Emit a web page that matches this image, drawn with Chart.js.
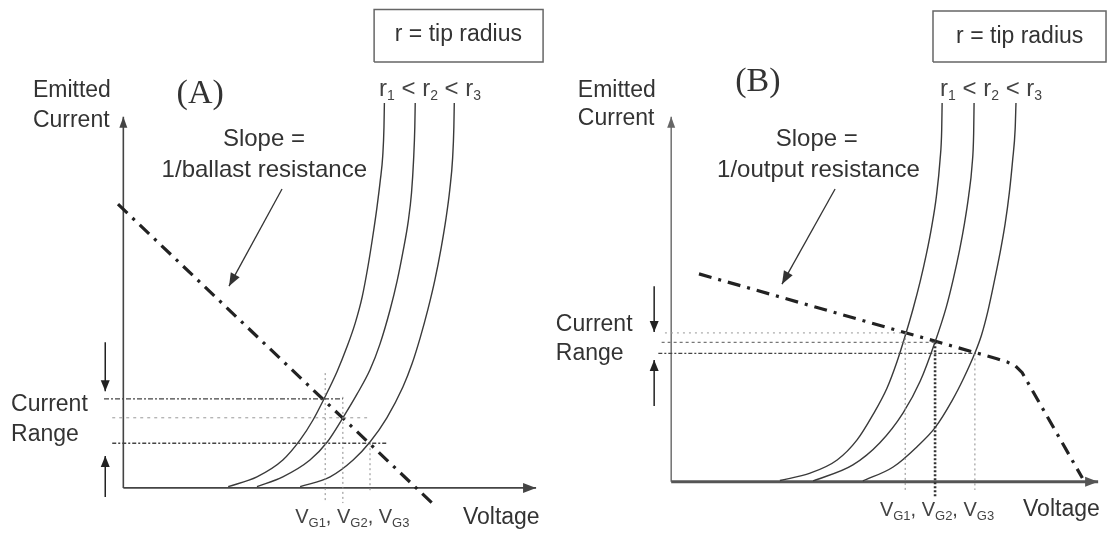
<!DOCTYPE html>
<html>
<head>
<meta charset="utf-8">
<script src="https://cdn.jsdelivr.net/npm/chart.js@4.4.0/dist/chart.umd.min.js"></script>
<style>
  html, body { margin: 0; padding: 0; background: #fff; }
  #wrap { position: relative; width: 1111px; height: 533px; overflow: hidden; }
  canvas { position: absolute; top: 0; }
  #chartA { left: 0; }
  #chartB { left: 555px; }
</style>
</head>
<body>
<div id="wrap">
  <canvas id="chartA" width="555" height="533"></canvas>
  <canvas id="chartB" width="556" height="533"></canvas>
</div>
<script>
const SANS = '"Liberation Sans", Arial, sans-serif';
const SERIF = '"Liberation Serif", "Times New Roman", serif';

const gateLabels = ['G1', 'G2', 'G3'];
const radiusSubs = ['1', '2', '3'];

// ---- panel (A): ballast resistor ----
// emission curves, [voltage, current]
const curveA_r1 = [[25.5, 0.3], [32.5, 2.7], [38.8, 6.8], [43.0, 11.7], [46.1, 16.5], [49.1, 22.3], [52.0, 28.4], [54.4, 34.4], [56.4, 40.2], [58.1, 46.6], [59.5, 54.0], [60.7, 61.5], [61.7, 68.5], [62.5, 75.0], [63.1, 81.0], [63.4, 88.0], [63.5, 93.9]];
const curveA_r2 = [[32.5, 0.3], [38.8, 2.7], [45.4, 6.8], [49.6, 11.2], [53.4, 17.1], [56.8, 22.8], [60.0, 28.8], [62.4, 35.0], [64.9, 43.5], [66.6, 50.5], [68.0, 57.5], [69.3, 65.0], [70.1, 72.0], [70.6, 80.0], [70.9, 88.0], [71.0, 93.9]];
const curveA_r3 = [[43.0, 0.3], [50.3, 2.7], [55.9, 6.8], [60.0, 11.2], [64.1, 17.1], [68.0, 24.6], [70.2, 30.2], [72.2, 36.6], [74.1, 43.6], [75.8, 50.8], [77.3, 58.5], [78.5, 65.8], [79.4, 72.7], [80.1, 80.5], [80.4, 88.0], [80.5, 93.9]];
const loadLineA = [[-1.3, 69.2], [75.1, -3.7]];
const operatingA = [[49.1, 21.7], [53.4, 17.1], [60.0, 10.9]];
const guideStartA = [-4.7, -2.7, -2.7];
const guideEndA = [53.4, 59.3, 64.4];
const dropTopA = [28.0, 22.2, 10.9];
const dropBottomA = [-3.7, -3.7, -1.3];
const slopeArrowA = [[38.6, 72.9], [25.7, 49.2]];
const rangeArrowsA = [[[-4.4, 35.5], [-4.4, 23.6]], [[-4.4, -2.2], [-4.4, 7.8]]];
const axisTipA = [100.4, 90.5];
const boxA = [61.0, 102.1, 103.9, 116.7];

// ---- panel (B): output resistance ----
const curveB_r1 = [[26.2, 0.3], [33.5, 2.1], [40.0, 5.3], [44.8, 10.2], [48.6, 16.3], [52.0, 22.8], [54.4, 29.2], [56.4, 35.6], [58.3, 42.2], [60.0, 48.8], [61.5, 55.5], [62.8, 62.3], [63.9, 69.5], [64.8, 78.5], [65.2, 86.0], [65.3, 92.4]];
const curveB_r2 = [[34.2, 0.2], [43.8, 4.1], [50.3, 9.5], [55.9, 16.8], [60.0, 24.5], [63.6, 34.1], [66.3, 42.6], [68.0, 49.5], [69.5, 56.5], [70.7, 63.1], [71.7, 69.8], [72.5, 77.0], [72.9, 85.0], [73.0, 92.4]];
const curveB_r3 = [[46.2, 0.2], [53.5, 3.6], [59.2, 8.5], [63.6, 13.2], [67.7, 19.8], [70.6, 25.5], [73.2, 31.4], [74.8, 35.8], [76.3, 41.5], [77.8, 48.5], [79.2, 55.5], [80.5, 63.0], [81.5, 70.5], [82.3, 78.5], [82.9, 86.0], [83.1, 92.4]];
const loadLineB = [[6.7, 50.7], [78.5, 30.0], [81.0, 29.2], [83.0, 28.2], [84.6, 26.6], [99.1, 0.9]];
const operatingB = [[56.4, 36.3], [63.6, 34.0], [73.2, 31.3]];
const guideStartB = [-1.5, -2.3, -3.1];
const guideEndB = [56.9, 64.3, 73.4];
const dropTopB = [36.3, 34.0, 31.3];
const dropBottomB = [-2.0, -3.7, -2.0];
const slopeArrowB = [[39.5, 71.4], [26.7, 48.2]];
const rangeArrowsB = [[[-4.1, 47.7], [-4.1, 36.5]], [[-4.1, 18.5], [-4.1, 29.7]]];
const axisTipB = [102.9, 89.0];
const boxB = [63.1, 104.8, 102.4, 114.8];

function pts(arr) {
    return arr.map(([x, y]) => ({ x, y }));
}

function seg(data, style) {
    return Object.assign({
        data: pts(data), showLine: true, pointRadius: 0, pointHoverRadius: 0,
        borderColor: '#333', borderWidth: 1.4, fill: false, tension: 0
    }, style);
}

// filled arrow heads at the last point of a dataset
const arrowPlugin = {
    id: 'arrowHeads',
    afterDatasetsDraw(chart) {
        const ctx = chart.ctx;
        chart.data.datasets.forEach((ds, i) => {
            if (!ds.arrowHead) return;
            const p = chart.getDatasetMeta(i).data;
            const a = p[p.length - 2], b = p[p.length - 1];
            const ang = Math.atan2(b.y - a.y, b.x - a.x);
            const { len, width } = ds.arrowHead;
            ctx.save();
            ctx.translate(b.x, b.y);
            ctx.rotate(ang);
            ctx.beginPath();
            ctx.moveTo(0, 0);
            ctx.lineTo(-len, -width / 2);
            ctx.lineTo(-len, width / 2);
            ctx.closePath();
            ctx.fillStyle = ds.borderColor;
            ctx.fill();
            ctx.restore();
        });
    }
};

// text anchored on data coordinates, with optional subscripts
const textPlugin = {
    id: 'diagramText',
    afterDatasetsDraw(chart, args, opts) {
        const ctx = chart.ctx, xs = chart.scales.x, ys = chart.scales.y;
        ctx.save();
        ctx.textBaseline = 'middle';
        ctx.textAlign = 'left';
        opts.labels.forEach(lab => {
            const segs = Array.isArray(lab.text) ? lab.text : [{ t: lab.text }];
            const size = lab.size || opts.size;
            const subSize = lab.subSize || Math.round(size * 0.6);
            const family = lab.family || opts.family;
            const fontOf = s => (s.sub ? subSize : size) + 'px ' + family;
            const widths = segs.map(s => { ctx.font = fontOf(s); return ctx.measureText(s.t).width; });
            const total = widths.reduce((a, b) => a + b, 0);
            let x = xs.getPixelForValue(lab.x);
            const y = ys.getPixelForValue(lab.y);
            if (lab.align === 'center') x -= total / 2;
            ctx.fillStyle = lab.color || opts.color;
            segs.forEach((s, i) => {
                ctx.font = fontOf(s);
                ctx.fillText(s.t, x, s.sub ? y + size * 0.3 : y);
                x += widths[i];
            });
        });
        ctx.restore();
    }
};

function subscripted(prefix, subs, sep) {
    const out = [];
    subs.forEach((s, i) => {
        out.push({ t: (i ? sep : '') + prefix });
        out.push({ t: s, sub: true });
    });
    return out;
}

function buildDatasets(p) {
    const ds = [];
    p.ops.forEach(([x, y], i) => {
        ds.push(seg([[p.guideStart[i], y], [p.guideEnd[i], y]], p.guideStyles[i]));
        ds.push(seg([[x, p.dropTop[i]], [x, p.dropBottom[i]]], p.dropStyles[i]));
    });
    [p.r1, p.r2, p.r3].forEach(c => {
        ds.push(seg(c, { borderColor: '#3a3a3a', borderWidth: 1.4, cubicInterpolationMode: 'monotone' }));
    });
    ds.push(seg(p.load, { borderColor: '#222', borderWidth: 3.2, borderDash: [13, 7, 3, 7] }));
    const [bx1, bx2, by1, by2] = p.box;
    ds.push(seg([[bx1, by1], [bx2, by1], [bx2, by2], [bx1, by2], [bx1, by1]], { borderColor: '#666', borderWidth: 1.5 }));
    ds.push(seg([[0, 0], [p.tip[0], 0]], Object.assign({ arrowHead: { len: 13, width: 10 } }, p.xAxisStyle)));
    ds.push(seg([[0, 0], [0, p.tip[1]]], Object.assign({ arrowHead: { len: 11, width: 8 } }, p.yAxisStyle)));
    ds.push(seg(p.slopeArrow, { borderColor: '#333', borderWidth: 1.3, arrowHead: { len: 13, width: 10 } }));
    p.rangeArrows.forEach(a => {
        ds.push(seg(a, { borderColor: '#222', borderWidth: 1.5, arrowHead: { len: 11, width: 9 } }));
    });
    return ds;
}

function makeChart(id, xRange, yRange, datasets, labels) {
    return new Chart(document.getElementById(id), {
        type: 'scatter',
        data: { datasets },
        plugins: [arrowPlugin, textPlugin],
        options: {
            responsive: false,
            animation: false,
            events: [],
            layout: { padding: 0 },
            plugins: {
                legend: { display: false },
                tooltip: { enabled: false },
                diagramText: { labels, color: '#333', size: 23, family: SANS }
            },
            scales: {
                x: { type: 'linear', min: xRange[0], max: xRange[1], display: false },
                y: { type: 'linear', min: yRange[0], max: yRange[1], display: false }
            }
        }
    });
}

const thinDrop = { borderColor: '#8a8a8a', borderWidth: 1, borderDash: [2, 3] };

const datasetsA = buildDatasets({
    r1: curveA_r1, r2: curveA_r2, r3: curveA_r3, load: loadLineA,
    ops: operatingA, guideStart: guideStartA, guideEnd: guideEndA,
    dropTop: dropTopA, dropBottom: dropBottomA,
    guideStyles: [
        { borderColor: '#444', borderWidth: 1.3, borderDash: [5, 2, 2, 2] },
        { borderColor: '#999', borderWidth: 1, borderDash: [3, 4] },
        { borderColor: '#444', borderWidth: 1.5, borderDash: [4, 2, 2, 2] }
    ],
    dropStyles: [thinDrop, thinDrop, thinDrop],
    box: boxA, tip: axisTipA, slopeArrow: slopeArrowA, rangeArrows: rangeArrowsA,
    xAxisStyle: { borderColor: '#444', borderWidth: 1.8 },
    yAxisStyle: { borderColor: '#444', borderWidth: 1.6 }
});

const datasetsB = buildDatasets({
    r1: curveB_r1, r2: curveB_r2, r3: curveB_r3, load: loadLineB,
    ops: operatingB, guideStart: guideStartB, guideEnd: guideEndB,
    dropTop: dropTopB, dropBottom: dropBottomB,
    guideStyles: [
        { borderColor: '#999', borderWidth: 1, borderDash: [2, 4] },
        { borderColor: '#777', borderWidth: 1.3, borderDash: [3, 3] },
        { borderColor: '#444', borderWidth: 1.3, borderDash: [4, 2, 2, 2] }
    ],
    dropStyles: [thinDrop, { borderColor: '#333', borderWidth: 2.6, borderDash: [2, 2] }, thinDrop],
    box: boxB, tip: axisTipB, slopeArrow: slopeArrowB, rangeArrows: rangeArrowsB,
    xAxisStyle: { borderColor: '#555', borderWidth: 2.8 },
    yAxisStyle: { borderColor: '#666', borderWidth: 1.4 }
});

const labelsA = [
    { text: 'Emitted', x: -22.0, y: 97.0 },
    { text: 'Current', x: -22.0, y: 89.5 },
    { text: '(A)', x: 18.7, y: 96.1, align: 'center', size: 34, family: SERIF },
    { text: 'Slope =', x: 34.2, y: 85.1, align: 'center', size: 24 },
    { text: '1/ballast resistance', x: 34.3, y: 77.5, align: 'center', size: 24 },
    { text: 'Current', x: -27.3, y: 20.2 },
    { text: 'Range', x: -27.3, y: 13.1 },
    { text: 'r = tip radius', x: 81.5, y: 110.5, align: 'center' },
    { text: subscripted('r', radiusSubs, ' < '), x: 62.2, y: 97.3, size: 24, subSize: 14, color: '#444' },
    { text: subscripted('V', gateLabels, ', '), x: 41.8, y: -7.3, size: 20, subSize: 13, color: '#444' },
    { text: 'Voltage', x: 82.6, y: -7.3 }
];

const labelsB = [
    { text: 'Emitted', x: -22.5, y: 95.5 },
    { text: 'Current', x: -22.5, y: 88.5 },
    { text: '(B)', x: 20.9, y: 97.5, align: 'center', size: 34, family: SERIF },
    { text: 'Slope =', x: 35.1, y: 83.6, align: 'center', size: 24 },
    { text: '1/output resistance', x: 35.5, y: 76.0, align: 'center', size: 24 },
    { text: 'Current', x: -27.8, y: 38.2 },
    { text: 'Range', x: -27.8, y: 31.2 },
    { text: 'r = tip radius', x: 84.0, y: 108.6, align: 'center' },
    { text: subscripted('r', radiusSubs, ' < '), x: 64.8, y: 95.8, size: 24, subSize: 14, color: '#444' },
    { text: subscripted('V', gateLabels, ', '), x: 50.3, y: -6.9, size: 20, subSize: 13, color: '#444' },
    { text: 'Voltage', x: 84.8, y: -6.9 }
];

makeChart('chartA', [-30, 105], [-11, 119], datasetsA, labelsA);
makeChart('chartB', [-28, 106], [-12.5, 117.5], datasetsB, labelsB);
</script>
</body>
</html>
